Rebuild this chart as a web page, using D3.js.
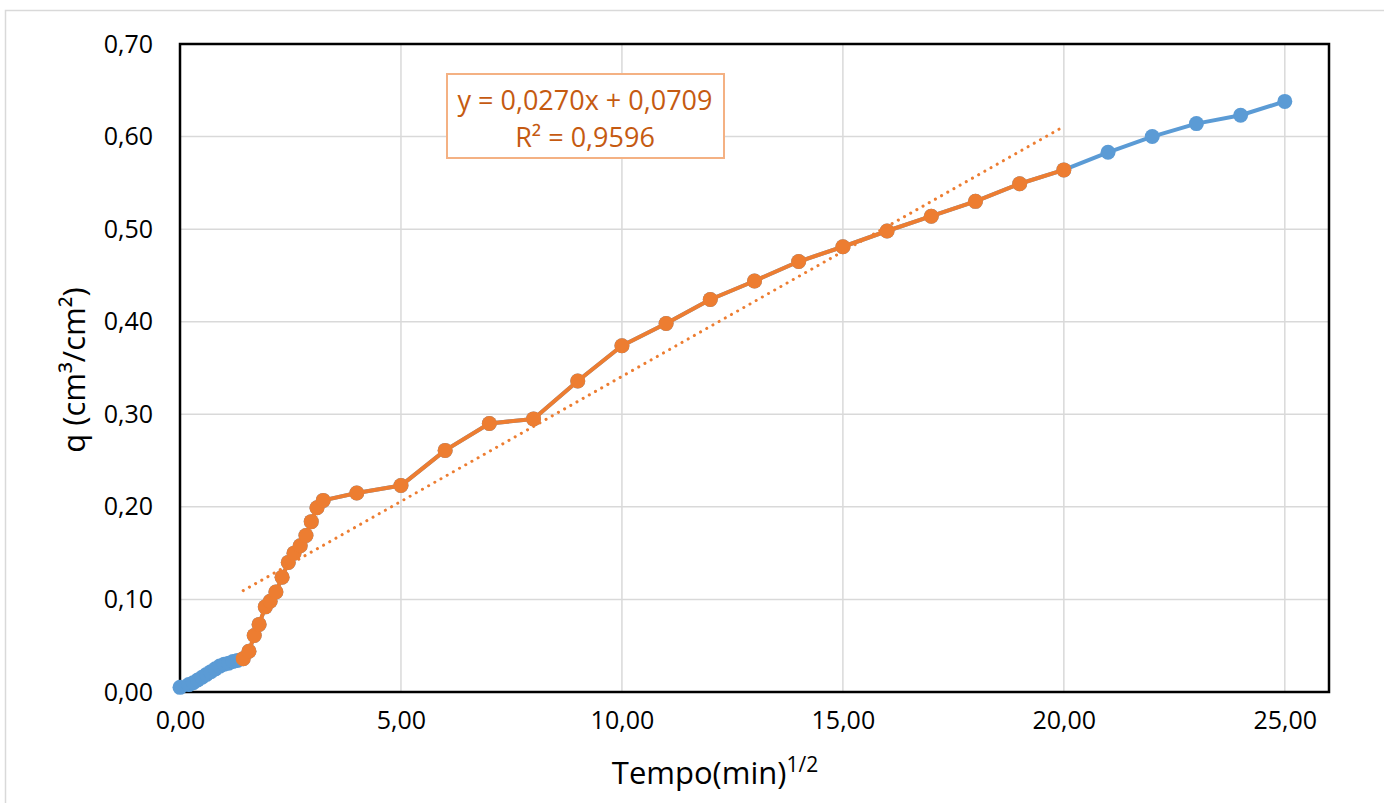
<!DOCTYPE html>
<html><head><meta charset="utf-8">
<script src="https://cdn.jsdelivr.net/npm/d3@7/dist/d3.min.js"></script>
<style>body{margin:0;background:#fff;} svg{display:block;}</style>
</head><body>
<svg id="c" width="1384" height="803"></svg>
<script>
// Data (x = sqrt time, y = q)
const blueEarlyX = [0, 0.2, 0.3, 0.4, 0.5, 0.6, 0.7, 0.8, 0.9, 1.0, 1.1, 1.2, 1.3];
const blueEarlyY = [0.005, 0.008, 0.010, 0.013, 0.016, 0.019, 0.022, 0.025, 0.028, 0.030, 0.031, 0.033, 0.034];
const orangeX = [1.43, 1.56, 1.68, 1.79, 1.93, 2.04, 2.17, 2.31, 2.45, 2.58, 2.72, 2.85, 2.97, 3.10, 3.24,
                 4, 5, 6, 7, 8, 9, 10, 11, 12, 13, 14, 15, 16, 17, 18, 19, 20];
const orangeY = [0.036, 0.044, 0.061, 0.073, 0.092, 0.098, 0.108, 0.124, 0.140, 0.150, 0.158, 0.169, 0.184, 0.199, 0.207,
                 0.215, 0.223, 0.261, 0.290, 0.295, 0.336, 0.374, 0.398, 0.424, 0.444, 0.465, 0.481, 0.498, 0.514, 0.530, 0.549, 0.564];
const blueLateX = [21, 22, 23, 24, 25];
const blueLateY = [0.583, 0.600, 0.614, 0.623, 0.638];
const trendSlope = 0.0270, trendIntercept = 0.0709;
const xTicks = [0, 5, 10, 15, 20, 25];
const yTicks = [0, 0.1, 0.2, 0.3, 0.4, 0.5, 0.6, 0.7];
const eqText = "y = 0,0270x + 0,0709";
const r2Text = "R² = 0,9596";

const svg = d3.select("#c");
const L = 180, R = 1329, T = 44, B = 692;
const x = d3.scaleLinear().domain([0, 26]).range([L, R]);
const y = d3.scaleLinear().domain([0, 0.7]).range([B, T]);
const font = "'Open Sans', sans-serif";

svg.append("rect").attr("x", 5.5).attr("y", 10.5).attr("width", 1400).attr("height", 900)
  .attr("fill", "none").attr("stroke", "#d9d9d9").attr("stroke-width", 1.5);

// gridlines
svg.append("g").selectAll("line").data(xTicks.filter(d => d > 0)).join("line")
  .attr("x1", d => x(d)).attr("x2", d => x(d)).attr("y1", T).attr("y2", B)
  .attr("stroke", "#d9d9d9").attr("stroke-width", 1.5);
svg.append("g").selectAll("line").data(yTicks.filter(d => d > 0 && d < 0.7)).join("line")
  .attr("x1", L).attr("x2", R).attr("y1", d => y(d)).attr("y2", d => y(d))
  .attr("stroke", "#d9d9d9").attr("stroke-width", 1.5);

// axes (labels only)
const fmt = d => d3.format(".2f")(d).replace(".", ",");
const xAxis = svg.append("g").attr("transform", `translate(0,${B})`)
  .call(d3.axisBottom(x).tickValues(xTicks).tickFormat(fmt).tickSize(0).tickPadding(19));
const yAxis = svg.append("g").attr("transform", `translate(${L},0)`)
  .call(d3.axisLeft(y).tickValues(yTicks).tickFormat(fmt).tickSize(0).tickPadding(27));
[xAxis, yAxis].forEach(a => {
  a.select(".domain").remove();
  a.selectAll("text").attr("font-family", font).attr("font-size", 25).attr("fill", "#000");
});

// frame
svg.append("rect").attr("x", L).attr("y", T).attr("width", R - L).attr("height", B - T)
  .attr("fill", "none").attr("stroke", "#000").attr("stroke-width", 2.5);

// series
const blueX = blueEarlyX.concat(orangeX, blueLateX);
const blueY = blueEarlyY.concat(orangeY, blueLateY);
const blue = blueX.map((d, i) => [d, blueY[i]]);
const orange = orangeX.map((d, i) => [d, orangeY[i]]);
const line = d3.line().x(d => x(d[0])).y(d => y(d[1]));

svg.append("path").datum(blue).attr("d", line).attr("fill", "none")
  .attr("stroke", "#5b9bd5").attr("stroke-width", 4).attr("stroke-linejoin", "round");
svg.append("g").selectAll("circle").data(blue).join("circle")
  .attr("cx", d => x(d[0])).attr("cy", d => y(d[1])).attr("r", 7.5).attr("fill", "#5b9bd5");

svg.append("path").datum(orange).attr("d", line).attr("fill", "none")
  .attr("stroke", "#ed7d31").attr("stroke-width", 4).attr("stroke-linejoin", "round");
svg.append("g").selectAll("circle").data(orange).join("circle")
  .attr("cx", d => x(d[0])).attr("cy", d => y(d[1])).attr("r", 7.5).attr("fill", "#ed7d31");

// trendline
const x0 = orangeX[0], x1 = orangeX[orangeX.length - 1];
svg.append("line")
  .attr("x1", x(x0)).attr("y1", y(trendSlope * x0 + trendIntercept))
  .attr("x2", x(x1)).attr("y2", y(trendSlope * x1 + trendIntercept))
  .attr("stroke", "#ed7d31").attr("stroke-width", 3).attr("stroke-linecap", "round")
  .attr("stroke-dasharray", "0.1 7");

// equation box
svg.append("rect").attr("x", 447).attr("y", 74).attr("width", 277).attr("height", 84)
  .attr("fill", "#fff").attr("stroke", "#f4b183").attr("stroke-width", 2);
svg.append("text").attr("x", 585).attr("y", 110).attr("text-anchor", "middle")
  .attr("font-family", font).attr("font-size", 27).attr("fill", "#c55a11").text(eqText);
svg.append("text").attr("x", 585).attr("y", 147).attr("text-anchor", "middle")
  .attr("font-family", font).attr("font-size", 27).attr("fill", "#c55a11").text(r2Text);

// axis titles
const xt = svg.append("text").attr("x", 715).attr("y", 784).attr("text-anchor", "middle")
  .attr("font-family", font).attr("font-size", 31).attr("fill", "#000");
xt.append("tspan").text("Tempo(min)");
xt.append("tspan").attr("dy", -12).attr("font-size", 21).text("1/2");

svg.append("text").attr("transform", "translate(85,370) rotate(-90)").attr("text-anchor", "middle")
  .attr("font-family", font).attr("font-size", 31).attr("fill", "#000").text("q (cm³/cm²)");
</script>
</body></html>
